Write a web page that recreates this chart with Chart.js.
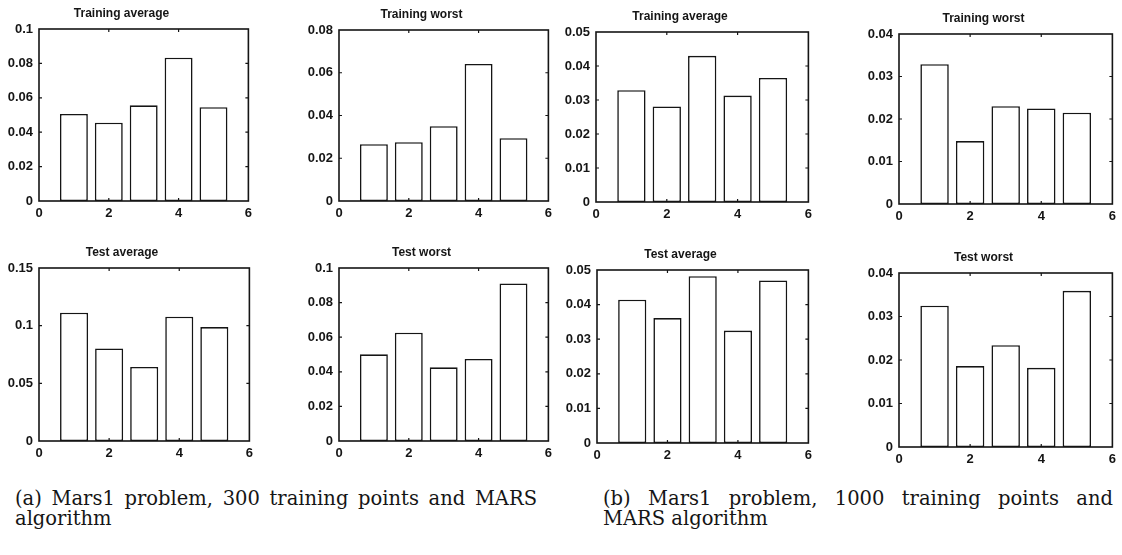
<!DOCTYPE html>
<html>
<head>
<meta charset="utf-8">
<script src="https://cdn.jsdelivr.net/npm/chart.js@4.4.1/dist/chart.umd.min.js"></script>
<style>
  html, body { margin:0; padding:0; background:#fff; width:1122px; height:555px; overflow:hidden; }
  canvas { position:absolute; }
  .cap { position:absolute; font-family:"DejaVu Serif", serif; font-size:19.5px; color:#151515; line-height:20px; }
  .cap .l1 { display:block; white-space:nowrap; }
  .cap .l2 { display:block; }
</style>
</head>
<body>
<div id="wrap"></div>
<div class="cap" style="left:15px; top:489px;"><span class="l1" id="capA">(a) Mars1 problem, 300 training points and MARS</span><span class="l2">algorithm</span></div>
<div class="cap" style="left:603px; top:489px;"><span class="l1" id="capB">(b) Mars1 problem, 1000 training points and</span><span class="l2">MARS algorithm</span></div>
<script>
// ---- data ----
const categories = [1, 2, 3, 4, 5];
const xTicks = [0, 2, 4, 6];

const trainAvgA   = [0.0506, 0.0455, 0.0556, 0.0833, 0.0545];
const trainWorstA = [0.0266, 0.0275, 0.0350, 0.0641, 0.0294];
const trainAvgB   = [0.0329, 0.0281, 0.0430, 0.0313, 0.0365];
const trainWorstB = [0.0329, 0.0148, 0.0230, 0.0225, 0.0215];
const testAvgA    = [0.1113, 0.0803, 0.0642, 0.1078, 0.0988];
const testWorstA  = [0.0501, 0.0626, 0.0426, 0.0474, 0.0911];
const testAvgB    = [0.0414, 0.0361, 0.0482, 0.0325, 0.0470];
const testWorstB  = [0.0325, 0.0186, 0.0234, 0.0182, 0.0359];

const yTicksTrainAvgA   = [0, 0.02, 0.04, 0.06, 0.08, 0.1];
const yTicksTrainWorstA = [0, 0.02, 0.04, 0.06, 0.08];
const yTicksTrainAvgB   = [0, 0.01, 0.02, 0.03, 0.04, 0.05];
const yTicksTrainWorstB = [0, 0.01, 0.02, 0.03, 0.04];
const yTicksTestAvgA    = [0, 0.05, 0.1, 0.15];
const yTicksTestWorstA  = [0, 0.02, 0.04, 0.06, 0.08, 0.1];
const yTicksTestAvgB    = [0, 0.01, 0.02, 0.03, 0.04, 0.05];
const yTicksTestWorstB  = [0, 0.01, 0.02, 0.03, 0.04];

// ---- layout (plot-area pixel boxes) ----
const panels = [
  { title:'Training average', values:trainAvgA,   yTicks:yTicksTrainAvgA,   L:39,  R:249,  T:29,  B:201 },
  { title:'Training worst',   values:trainWorstA, yTicks:yTicksTrainWorstA, L:339, R:549,  T:30,  B:201 },
  { title:'Training average', values:trainAvgB,   yTicks:yTicksTrainAvgB,   L:596, R:809,  T:32,  B:202 },
  { title:'Training worst',   values:trainWorstB, yTicks:yTicksTrainWorstB, L:899, R:1113, T:34,  B:204 },
  { title:'Test average',     values:testAvgA,    yTicks:yTicksTestAvgA,    L:39,  R:250,  T:268, B:441 },
  { title:'Test worst',       values:testWorstA,  yTicks:yTicksTestWorstA,  L:339, R:549,  T:268, B:441 },
  { title:'Test average',     values:testAvgB,    yTicks:yTicksTestAvgB,    L:597, R:809,  T:270, B:443 },
  { title:'Test worst',       values:testWorstB,  yTicks:yTicksTestWorstB,  L:899, R:1113, T:273, B:447 }
];

// fit the first caption lines to their printed widths (justified like the original)
function fitLine(id, width) {
  const el = document.getElementById(id);
  const natural = el.getBoundingClientRect().width;
  const words = el.textContent.split(' ').length;
  const extra = (width - natural) / (words - 1);
  el.style.wordSpacing = extra + 'px';
}
fitLine('capA', 522);
fitLine('capB', 510);

const INK = '#151515';
const LEFT_W = 45, TOP_H = 30, BOT_H = 25, RIGHT_P = 8;
const tickFont = { family:'"Liberation Sans", Arial, sans-serif', size:13, weight:'bold' };
const titleFont = { family:'"Liberation Sans", Arial, sans-serif', size:12, weight:'bold', lineHeight:1.2 };

const framePlugin = {
  id:'frame',
  afterDatasetsDraw(chart) {
    const { ctx, chartArea:a, scales } = chart;
    ctx.save();
    ctx.strokeStyle = INK;
    ctx.lineWidth = 1.6;
    ctx.strokeRect(a.left, a.top, a.right - a.left, a.bottom - a.top);
    ctx.lineWidth = 1.2;
    const tl = 3;
    ctx.beginPath();
    scales.x.ticks.forEach(t => {
      const px = scales.x.getPixelForValue(t.value);
      if (px <= a.left + 1 || px >= a.right - 1) return;
      ctx.moveTo(px, a.bottom); ctx.lineTo(px, a.bottom - tl);
      ctx.moveTo(px, a.top); ctx.lineTo(px, a.top + tl);
    });
    scales.y.ticks.forEach(t => {
      const py = scales.y.getPixelForValue(t.value);
      if (py <= a.top + 1 || py >= a.bottom - 1) return;
      ctx.moveTo(a.left, py); ctx.lineTo(a.left + tl, py);
      ctx.moveTo(a.right, py); ctx.lineTo(a.right - tl, py);
    });
    ctx.stroke();
    ctx.restore();
  }
};

const wrap = document.getElementById('wrap');
panels.forEach(p => {
  const cv = document.createElement('canvas');
  const w = (p.R - p.L) + LEFT_W + RIGHT_P;
  const h = (p.B - p.T) + TOP_H + BOT_H;
  cv.width = w; cv.height = h;
  cv.style.width = w + 'px'; cv.style.height = h + 'px';
  cv.style.left = (p.L - LEFT_W) + 'px';
  cv.style.top = (p.T - TOP_H) + 'px';
  wrap.appendChild(cv);
  const yt = p.yTicks;
  new Chart(cv, {
    type:'bar',
    data:{
      datasets:[{
        data: categories.map((c, i) => ({ x:c, y:p.values[i] })),
        backgroundColor:'#ffffff',
        borderColor:INK,
        borderWidth:1.6,
        borderSkipped:false,
        barPercentage:0.8,
        categoryPercentage:1
      }]
    },
    options:{
      responsive:false,
      animation:false,
      devicePixelRatio:1,
      layout:{ padding:{ left:0, right:RIGHT_P, top:0, bottom:0 } },
      plugins:{
        legend:{ display:false },
        tooltip:{ enabled:false },
        title:{ display:true, text:p.title, color:INK, font:titleFont, padding:{ top:7, bottom:8.6 } }
      },
      scales:{
        x:{
          type:'linear', min:0, max:6, offset:false,
          afterBuildTicks: s => { s.ticks = xTicks.map(v => ({ value:v })); },
          grid:{ display:false, drawTicks:false, offset:false },
          border:{ display:false },
          ticks:{ color:INK, font:tickFont, padding:5, maxRotation:0, autoSkip:false,
                  callback: v => String(v) },
          afterFit: s => { s.height = BOT_H; }
        },
        y:{
          type:'linear', min:0, max:yt[yt.length - 1],
          afterBuildTicks: s => { s.ticks = yt.map(v => ({ value:v })); },
          grid:{ display:false, drawTicks:false },
          border:{ display:false },
          ticks:{ color:INK, font:tickFont, padding:6, autoSkip:false,
                  callback: v => String(Number(v.toFixed(3))) },
          afterFit: s => { s.width = LEFT_W; }
        }
      }
    },
    plugins:[framePlugin]
  });
});
</script>
</body>
</html>
